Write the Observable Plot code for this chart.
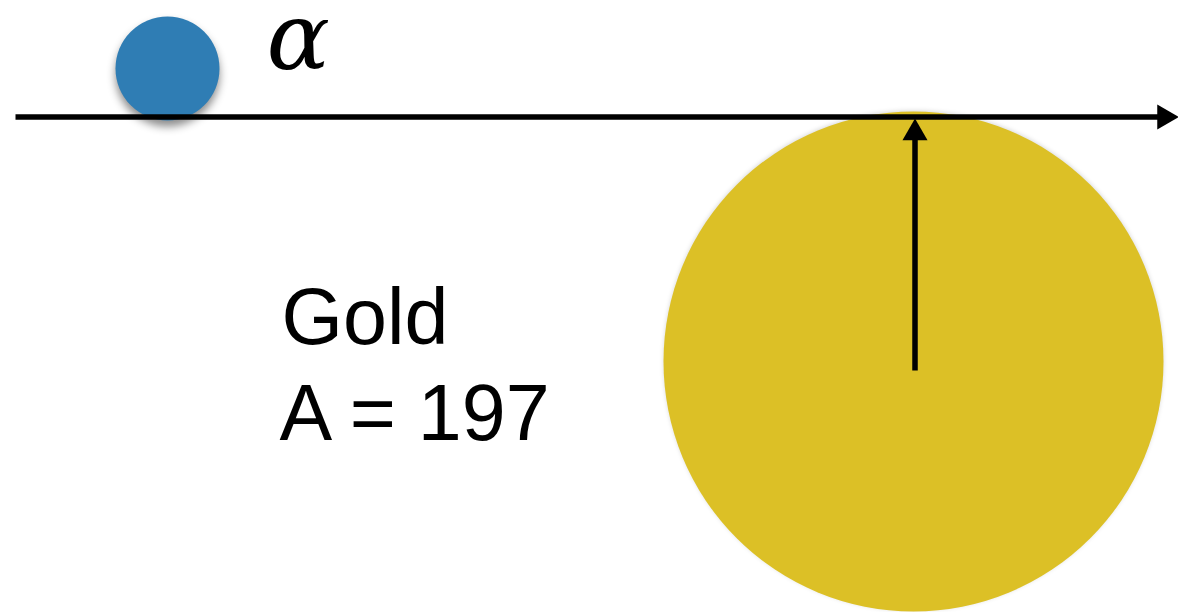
<!DOCTYPE html>
<html>
<head>
<meta charset="utf-8">
<script src="https://cdn.jsdelivr.net/npm/d3@7"></script>
<script src="https://cdn.jsdelivr.net/npm/@observablehq/plot@0.6"></script>
<style>
  html, body { margin: 0; padding: 0; background: #fff; }
  .blue-ball { filter: drop-shadow(0px 6px 4px rgba(0,0,0,0.45)); }
  .gold-ball { filter: drop-shadow(0px -1px 2px rgba(0,0,0,0.15)); }
</style>
</head>
<body>
<div id="chart"></div>
<script>
// Diagram data (pixel-space coordinates of the scene)
const nucleus = [{name: "Gold", x: 913, y: 361, r: 250}];
const alphaParticle = [{name: "alpha", x: 167, y: 68, r: 52}];
const beamLine = [{x1: 15, y1: 116.5, x2: 1164, y2: 116.5}];
const radiusArrow = [{x1: 914.5, y1: 370, x2: 914.5, y2: 135}];
const arrowHeads = [
  {x: 1164, y: 116.5, rotate: 90},
  {x: 914.5, y: 132.5, rotate: 0}
];
const labels = [
  {x: 281, y: 343, text: "Gold"},
  {x: 279, y: 439, text: "A = 197"}
];
const greek = [{x: 266, y: 68, text: "α"}];

const chart = Plot.plot({
  width: 1178,
  height: 612,
  margin: 0,
  x: {domain: [0, 1178], range: [0, 1178], axis: null},
  y: {domain: [0, 612], range: [0, 612], axis: null},
  style: {background: "#ffffff"},
  marks: [
    Plot.dot(nucleus, {x: "x", y: "y", r: 250, fill: "#dcc026", stroke: "none", className: "gold-ball"}),
    Plot.dot(alphaParticle, {x: "x", y: "y", r: 52, fill: "#2f7db4", stroke: "none", className: "blue-ball"}),
    Plot.link(beamLine, {x1: "x1", y1: "y1", x2: "x2", y2: "y2", stroke: "#000", strokeWidth: 5.5}),
    Plot.link(radiusArrow, {x1: "x1", y1: "y1", x2: "x2", y2: "y2", stroke: "#000", strokeWidth: 5.5}),
    Plot.dot(arrowHeads, {x: "x", y: "y", rotate: "rotate", symbol: "triangle", r: 9.3, fill: "#000", stroke: "none"}),
    Plot.text(labels, {x: "x", y: "y", text: "text", textAnchor: "start", lineAnchor: "bottom",
      fontSize: 79, fontFamily: "Liberation Sans, Arial, Helvetica, sans-serif", fill: "#000"}),
    Plot.text(greek, {x: "x", y: "y", text: "text", textAnchor: "start", lineAnchor: "bottom",
      fontSize: 94, fontStyle: "italic", fontFamily: "DejaVu Serif, serif", fill: "#000"})
  ]
});
document.getElementById("chart").appendChild(chart);
</script>
</body>
</html>
